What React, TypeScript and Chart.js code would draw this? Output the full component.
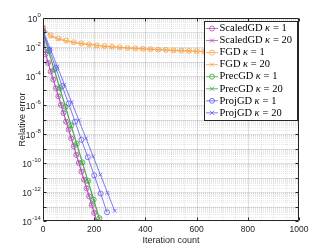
import React, { useEffect, useRef } from 'react';
import { Chart, registerables } from 'chart.js';
Chart.register(...registerables);

// ---------- data (log10 of relative error) ----------
const scaledIter = [0, 10, 20, 30, 40, 50, 60, 70, 80, 90, 100, 110, 120, 130, 140, 150, 160, 170, 180, 190, 200, 210];
const scaledGD1Exp = [-0.7, -2.5, -3.1, -3.7, -4.25, -4.85, -5.4, -6.0, -6.55, -7.15, -7.7, -8.3, -8.85, -9.45, -10.0, -10.6, -11.15, -11.75, -12.3, -12.9, -13.45, -14.05];
const scaledGD20Exp = [-0.68, -2.45, -3.05, -3.65, -4.2, -4.8, -5.35, -5.95, -6.5, -7.1, -7.65, -8.25, -8.8, -9.4, -9.95, -10.55, -11.1, -11.7, -12.25, -12.85, -13.4, -14.0];

const fgdIter = [0, 30, 60, 90, 120, 150, 180, 210, 240, 270, 300, 330, 360, 390, 420, 450, 480, 510, 540, 570, 600, 630, 660, 690, 720, 750, 780, 810, 840, 870, 900, 930, 960, 990, 1000];
const fgd1Exp = [-0.65, -1.2, -1.42, -1.56, -1.67, -1.75, -1.82, -1.88, -1.93, -1.98, -2.02, -2.06, -2.09, -2.12, -2.15, -2.18, -2.2, -2.23, -2.25, -2.27, -2.29, -2.31, -2.33, -2.35, -2.37, -2.39, -2.4, -2.42, -2.44, -2.45, -2.47, -2.48, -2.5, -2.51, -2.52];
const fgd20Exp = [-0.6, -1.25, -1.46, -1.59, -1.69, -1.77, -1.84, -1.9, -1.95, -1.99, -2.03, -2.07, -2.1, -2.13, -2.16, -2.19, -2.21, -2.24, -2.26, -2.28, -2.3, -2.32, -2.34, -2.36, -2.38, -2.4, -2.41, -2.43, -2.45, -2.46, -2.48, -2.49, -2.51, -2.52, -2.53];

const precIter = [0, 22, 44, 66, 88, 110, 132, 154, 176, 198, 220];
const precGD1Exp = [-0.9, -2.28, -3.56, -4.84, -6.12, -7.4, -8.68, -9.96, -11.24, -12.52, -13.8];
const precGD20Exp = [-0.95, -2.3, -3.6, -4.88, -6.15, -7.45, -8.72, -10.0, -11.28, -12.56, -13.85];

const proj1Iter = [0, 25, 50, 75, 100, 125, 150, 175, 200, 225, 250];
const projGD1Exp = [-0.95, -2.2, -3.45, -4.7, -5.9, -7.15, -8.4, -9.6, -10.85, -12.1, -13.4];
const proj20Iter = [0, 28, 56, 84, 112, 140, 168, 196, 224, 252, 280];
const projGD20Exp = [-0.85, -2.1, -3.35, -4.6, -5.8, -7.05, -8.3, -9.55, -10.8, -12.05, -13.3];

const yTickExps = [-14, -12, -10, -8, -6, -4, -2, 0];
const xTicks = [0, 200, 400, 600, 800, 1000];

const seriesNames = ['ScaledGD', 'ScaledGD', 'FGD', 'FGD', 'PrecGD', 'PrecGD', 'ProjGD', 'ProjGD'];
const seriesKappa = ['1', '20', '1', '20', '1', '20', '1', '20'];

const PURPLE = '#b050b4';
const ORANGE = '#f8a64c';
const GREEN = '#3fa83f';
const BLUE = '#5a5af2';
const seriesColors = [PURPLE, PURPLE, ORANGE, ORANGE, GREEN, GREEN, BLUE, BLUE];
const seriesMarkers = ['circle', 'crossRot', 'circle', 'crossRot', 'circle', 'crossRot', 'circle', 'crossRot'];

const seriesIters = [scaledIter, scaledIter, fgdIter, fgdIter, precIter, precIter, proj1Iter, proj20Iter];
const seriesExps = [scaledGD1Exp, scaledGD20Exp, fgd1Exp, fgd20Exp, precGD1Exp, precGD20Exp, projGD1Exp, projGD20Exp];

const AXIS = '#262626';
const SANS = '"Liberation Sans", Arial, Helvetica, sans-serif';

function drawMarker(ctx: CanvasRenderingContext2D, style: string, x: number, y: number, r: number, color: string) {
  ctx.save();
  ctx.strokeStyle = color;
  ctx.lineWidth = 0.8;
  ctx.beginPath();
  if (style === 'circle') {
    ctx.arc(x, y, r, 0, Math.PI * 2);
  } else {
    const d = r * Math.SQRT1_2 * 1.2;
    ctx.moveTo(x - d, y - d);
    ctx.lineTo(x + d, y + d);
    ctx.moveTo(x - d, y + d);
    ctx.lineTo(x + d, y - d);
  }
  ctx.stroke();
  ctx.restore();
}

const gridPlugin = {
  id: 'matlabGrid',
  beforeDatasetsDraw(chart: any) {
    const { ctx, chartArea } = chart;
    const { left, right, top, bottom } = chartArea;
    const xs = chart.scales.x;
    const ys = chart.scales.y;
    ctx.save();
    ctx.lineWidth = 1;
    ctx.strokeStyle = 'rgba(0,0,0,0.09)';
    ctx.setLineDash([1, 1]);
    ctx.beginPath();
    for (let k = -14; k < 0; k++) {
      for (let m = 2; m <= 9; m++) {
        const p = Math.round(ys.getPixelForValue(m * Math.pow(10, k))) + 0.5;
        ctx.moveTo(left, p);
        ctx.lineTo(right, p);
      }
    }
    for (let v = 50; v < 1000; v += 50) {
      if (v % 200 === 0) continue;
      const p = Math.round(xs.getPixelForValue(v)) + 0.5;
      ctx.moveTo(p, top);
      ctx.lineTo(p, bottom);
    }
    ctx.stroke();
    ctx.setLineDash([]);
    ctx.strokeStyle = 'rgba(0,0,0,0.12)';
    ctx.beginPath();
    for (let k = -13; k < 0; k++) {
      const p = Math.round(ys.getPixelForValue(Math.pow(10, k))) + 0.5;
      ctx.moveTo(left, p);
      ctx.lineTo(right, p);
    }
    for (const v of xTicks) {
      if (v === 0 || v === 1000) continue;
      const p = Math.round(xs.getPixelForValue(v)) + 0.5;
      ctx.moveTo(p, top);
      ctx.lineTo(p, bottom);
    }
    ctx.stroke();
    ctx.restore();
  },
  afterDatasetsDraw(chart: any) {
    const { ctx, chartArea } = chart;
    const { left, right, top, bottom } = chartArea;
    const xs = chart.scales.x;
    const ys = chart.scales.y;
    const L = Math.round(left) + 0.5, R = Math.round(right) - 0.5, T = Math.round(top) + 0.5, B = Math.round(bottom) - 0.5;
    ctx.save();
    ctx.strokeStyle = AXIS;
    ctx.lineWidth = 1;
    ctx.beginPath();
    ctx.rect(L, T, R - L, B - T);
    for (let k = -14; k <= 0; k++) {
      const p = Math.round(ys.getPixelForValue(Math.pow(10, k))) + 0.5;
      ctx.moveTo(L, p); ctx.lineTo(L + 3, p);
      ctx.moveTo(R, p); ctx.lineTo(R - 3, p);
    }
    for (const v of xTicks) {
      const p = Math.round(xs.getPixelForValue(v)) + 0.5;
      ctx.moveTo(p, B); ctx.lineTo(p, B - 3);
      ctx.moveTo(p, T); ctx.lineTo(p, T + 3);
    }
    ctx.stroke();

    // y tick labels: 10 with raised exponent
    ctx.fillStyle = AXIS;
    ctx.textBaseline = 'middle';
    ctx.textAlign = 'left';
    const baseFont = `8.5px ${SANS}`;
    const expFont = `6px ${SANS}`;
    const rightEdge = left - 2.5;
    for (const e of yTickExps) {
      const p = ys.getPixelForValue(Math.pow(10, e));
      const expText = String(e);
      ctx.font = expFont;
      const we = ctx.measureText(expText).width;
      ctx.font = baseFont;
      const wb = ctx.measureText('10').width;
      const x0 = rightEdge - we - wb;
      ctx.fillText('10', x0, p + 2);
      ctx.font = expFont;
      ctx.fillText(expText, x0 + wb + 0.3, p - 2.6);
    }
    ctx.restore();
  },
  afterDraw(chart: any) {
    const ctx: CanvasRenderingContext2D = chart.ctx;
    const bx = 204.5, by = 21.5, bw = 93, bh = 99;
    ctx.save();
    ctx.fillStyle = '#ffffff';
    ctx.fillRect(bx, by, bw, bh);
    ctx.strokeStyle = AXIS;
    ctx.lineWidth = 1;
    ctx.strokeRect(bx, by, bw, bh);
    const normal = '10.5px "Liberation Serif", "Times New Roman", serif';
    const italic = 'italic 10.5px "Liberation Serif", "Times New Roman", serif';
    ctx.textBaseline = 'middle';
    ctx.textAlign = 'left';
    ctx.fillStyle = '#000';
    for (let i = 0; i < seriesNames.length; i++) {
      const y = 28.5 + i * 12.05;
      const c = seriesColors[i];
      ctx.strokeStyle = c;
      ctx.lineWidth = 0.8;
      ctx.beginPath();
      ctx.moveTo(206, y);
      ctx.lineTo(218, y);
      ctx.stroke();
      drawMarker(ctx, seriesMarkers[i], 212, y, 2.5, c);
      let cx = 219.5;
      ctx.font = normal;
      ctx.fillText(seriesNames[i], cx, y);
      cx += ctx.measureText(seriesNames[i]).width + 2.4;
      ctx.font = italic;
      ctx.fillText('κ', cx, y);
      cx += ctx.measureText('κ').width + 2.8;
      ctx.font = normal;
      ctx.fillText('=', cx, y);
      cx += ctx.measureText('=').width + 2.8;
      ctx.fillText(seriesKappa[i], cx, y);
    }
    ctx.restore();
  },
};

export default function App() {
  const ref = useRef<HTMLCanvasElement>(null);
  useEffect(() => {
    const datasets = seriesNames.map((name, i) => ({
      label: `${name} κ = ${seriesKappa[i]}`,
      data: seriesIters[i].map((x, j) => ({ x, y: Math.pow(10, seriesExps[i][j]) })),
      borderColor: seriesColors[i],
      backgroundColor: seriesColors[i],
      borderWidth: 0.8,
      pointStyle: seriesMarkers[i],
      pointRadius: seriesMarkers[i] === 'circle' ? 2.5 : 2.6,
      pointBorderWidth: 0.8,
      pointBorderColor: seriesColors[i],
      pointBackgroundColor: 'rgba(0,0,0,0)',
      tension: 0,
      fill: false,
      order: 7 - i,
    }));
    const font = { family: SANS, size: 8.5 };
    const chart = new Chart(ref.current as HTMLCanvasElement, {
      type: 'line',
      data: { datasets },
      plugins: [gridPlugin],
      options: {
        animation: false,
        responsive: false,
        maintainAspectRatio: false,
        layout: { padding: { left: 0, right: 33, top: 18, bottom: 0 } },
        plugins: { legend: { display: false }, tooltip: { enabled: false } },
        scales: {
          x: {
            type: 'linear',
            min: 0,
            max: 1000,
            grid: { display: false, drawTicks: false },
            border: { display: false },
            ticks: {
              stepSize: 200,
              autoSkip: false,
              maxRotation: 0,
              padding: 4,
              color: AXIS,
              font,
              callback: (v: any) => String(v),
            },
            title: {
              display: true,
              text: 'Iteration count',
              color: AXIS,
              font: { family: SANS, size: 9 },
              padding: { top: 0, bottom: 3.5 },
            },
            afterFit: (s: any) => { s.height = 28; },
          },
          y: {
            type: 'logarithmic',
            min: 1e-14,
            max: 1,
            grid: { display: false, drawTicks: false },
            border: { display: false },
            afterBuildTicks: (s: any) => {
              s.ticks = yTickExps.map((e) => ({ value: Math.pow(10, e) }));
            },
            ticks: { display: false },
            title: {
              display: true,
              text: 'Relative error',
              color: AXIS,
              font: { family: SANS, size: 9 },
              padding: { top: 17.5, bottom: 0 },
            },
            afterFit: (s: any) => { s.width = 43; },
          },
        },
      } as any,
    });
    return () => chart.destroy();
  }, []);
  return (
    <div style={{ position: 'absolute', left: 0, top: 0, width: 332, height: 249, background: '#fff' }}>
      <canvas ref={ref} width={332} height={249} style={{ display: 'block' }} />
    </div>
  );
}
